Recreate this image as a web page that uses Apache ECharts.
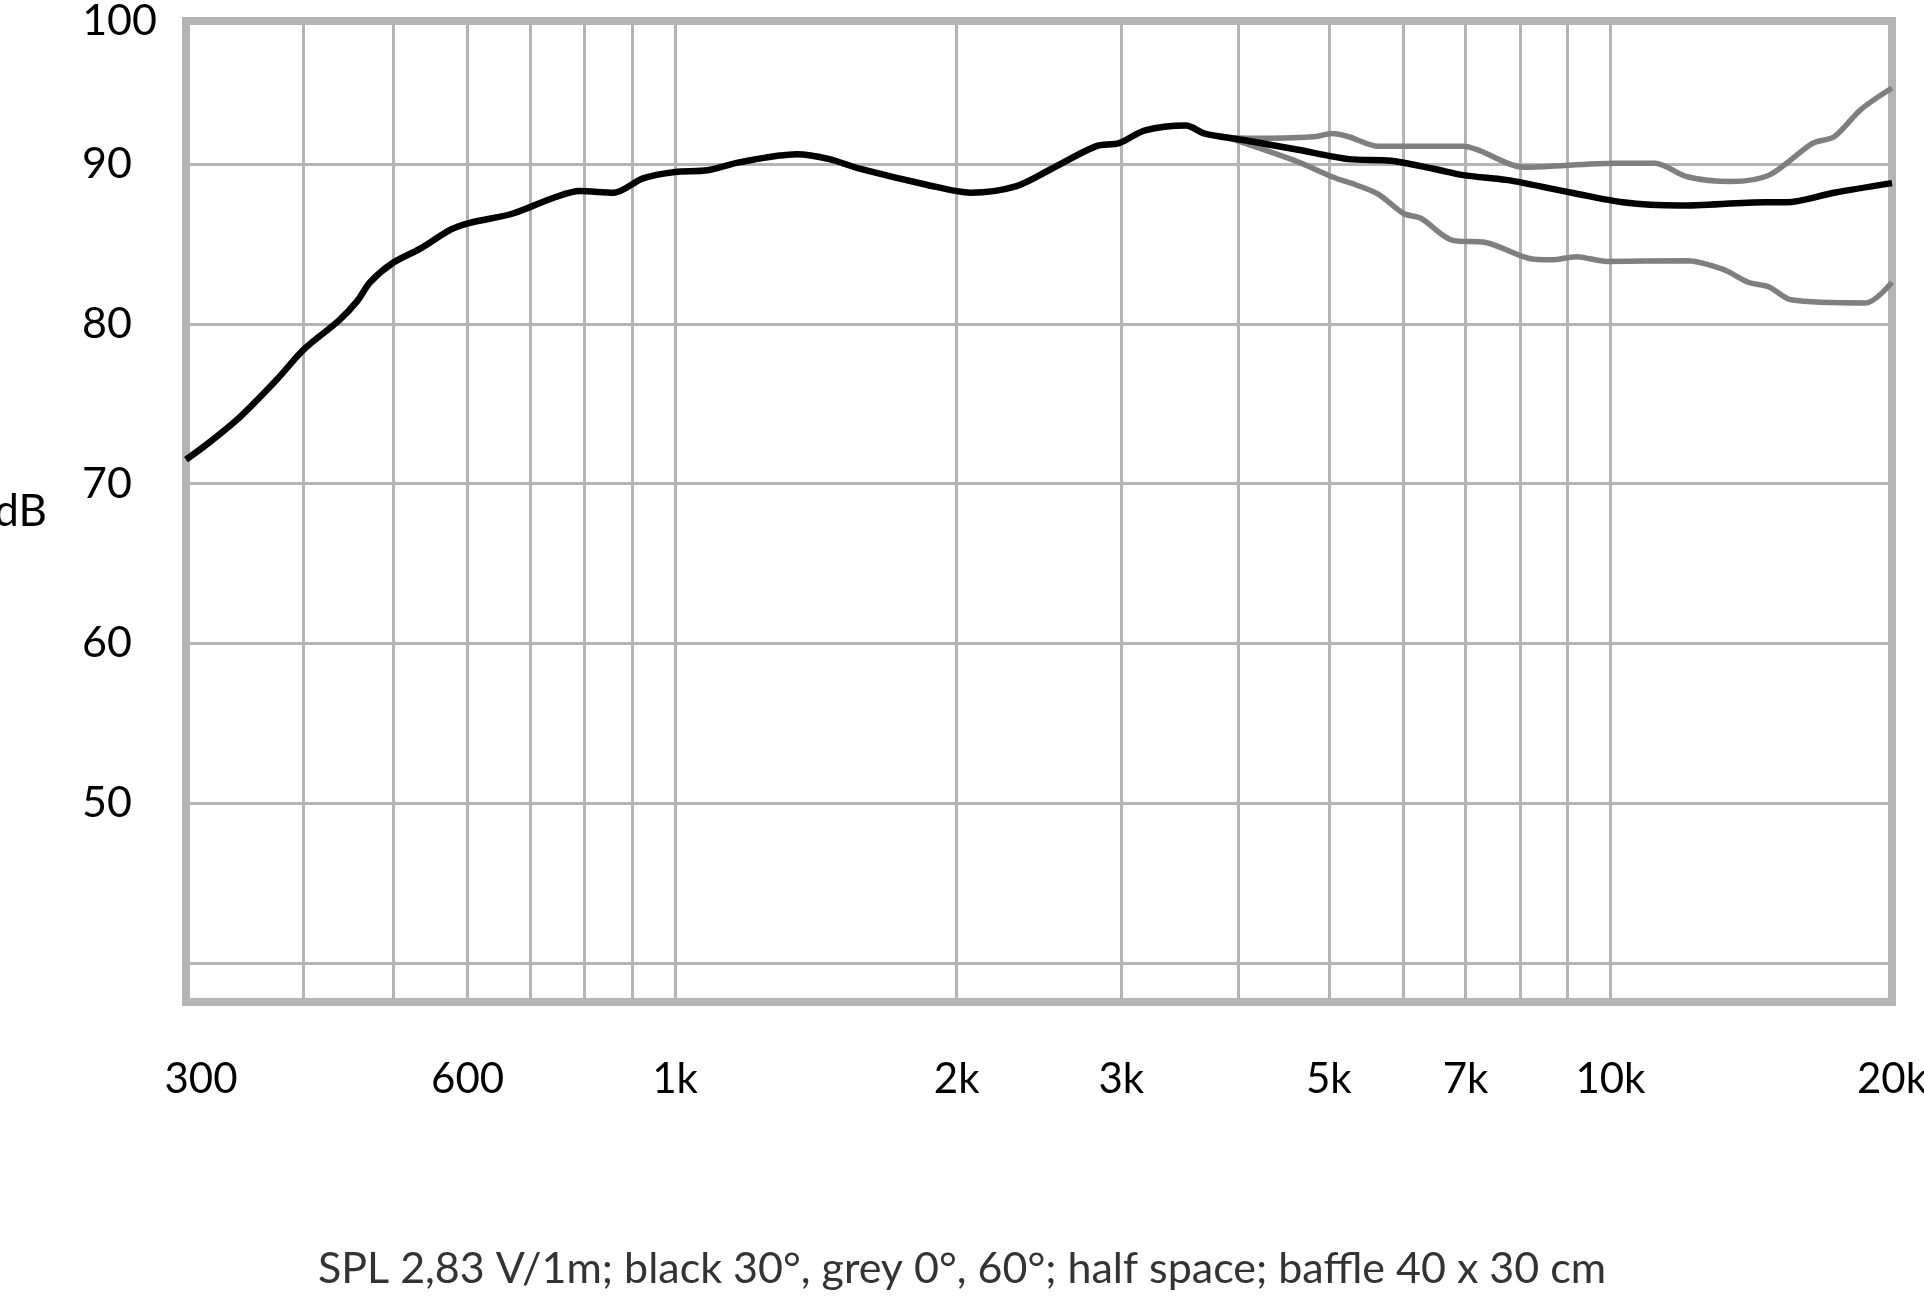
<!DOCTYPE html>
<html><head><meta charset="utf-8">
<script src="https://cdn.jsdelivr.net/npm/echarts@6/dist/echarts.min.js"></script>
<style>html,body{margin:0;padding:0;background:#fff}#c{width:1924px;height:1297px}</style>
</head><body><div id="c"></div>
<script>
// ---- data ----
const freqGridValues = [400,500,600,700,800,900,1000,2000,3000,4000,5000,6000,7000,8000,9000,10000];
const freqLabelValues = [300,600,1000,2000,3000,5000,7000,10000,20000];
const freqLabelTexts = ['300','600','1k','2k','3k','5k','7k','10k','20k'];
const dbGridValues = [40,50,60,70,80,90];
const dbAxisBottom = 37.58;
const dbAxisTop = 98.94;
const dbLabelValues = [50,60,70,80,90,dbAxisTop];
const dbLabelTexts = ['50','60','70','80','90','100'];
const caption = 'SPL 2,83 V/1m; black 30°, grey 0°, 60°; half space; baffle 40 x 30 cm';

const black30 = [
 [300,71.5],[318,72.6],[343,74.2],[375,76.5],[401,78.4],[437,80.2],[457,81.4],[472,82.6],
 [499,83.8],[534,84.7],[576,85.9],[602,86.3],[671,86.9],[743,87.9],[791,88.3],[860,88.2],
 [924,89.1],[1000,89.5],[1083,89.6],[1171,90.1],[1350,90.6],[1462,90.3],[1575,89.7],
 [1857,88.7],[2070,88.2],[2313,88.6],[2527,89.7],[2817,91.1],[2983,91.3],[3180,92.1],
 [3516,92.4],[3684,91.9],[4050,91.5],[4620,90.9],[5250,90.3],[5826,90.2],[6470,89.7],
 [6960,89.3],[7740,89.0],[9090,88.2],[10310,87.6],[11840,87.4],[14640,87.6],[15420,87.6],
 [17350,88.2],[20000,88.8]
];
const grey0 = [
 [3900,91.65],[4116,91.6],[4824,91.7],[5040,91.9],[5250,91.7],[5650,91.1],[6960,91.1],
 [7200,90.9],[8090,89.8],[10100,90.05],[11160,90.05],[12080,89.2],[13460,88.9],[14780,89.3],
 [16460,91.3],[17350,91.7],[18520,93.4],[20000,94.75]
];
const grey60 = [
 [3900,91.65],[4578,90.25],[5090,89.1],[5340,88.7],[5650,88.1],[6010,86.9],[6270,86.6],
 [6800,85.2],[7340,85.1],[8170,84.1],[8660,84.0],[9190,84.2],[9910,83.9],[12080,83.95],
 [13200,83.4],[14040,82.6],[14780,82.3],[15600,81.5],[18740,81.3],[20000,82.6]
];

// ---- chart ----
const FONT = 'Lato';
const gridColor = '#b4b4b4';
function pick(vals, texts, v) {
  for (let i = 0; i < vals.length; i++) {
    if (Math.abs(v - vals[i]) <= Math.abs(vals[i]) * 1e-6 + 1e-9) return texts[i];
  }
  return '';
}
const chart = echarts.init(document.getElementById('c'), null, {renderer: 'canvas'});
const option = {
  animation: false,
  backgroundColor: '#ffffff',
  textStyle: {fontFamily: FONT},
  title: {
    text: caption, left: 'center', top: 1243,
    textStyle: {fontFamily: FONT, fontSize: 43, fontWeight: 'normal', color: '#333333'}
  },
  grid: {
    left: 186, top: 21, width: 1706, height: 981,
    show: true, borderColor: gridColor, borderWidth: 8, backgroundColor: 'transparent',
    containLabel: false, outerBoundsMode: 'none'
  },
  xAxis: {
    type: 'log', logBase: 10, min: 300, max: 20000,
    axisLine: {show: false},
    axisTick: {show: false, customValues: freqGridValues},
    minorTick: {show: false}, minorSplitLine: {show: false},
    splitLine: {show: true, lineStyle: {color: gridColor, width: 3}},
    axisLabel: {
      customValues: freqLabelValues,
      margin: 56,
      formatter: function (v) {
        const t = pick(freqLabelValues, freqLabelTexts, v);
        return t === '300' ? '{first|' + t + '}' : '{n|' + t + '}';
      },
      rich: {
        n: {fontFamily: FONT, fontSize: 42, color: '#000'},
        first: {fontFamily: FONT, fontSize: 42, color: '#000', padding: [0, 0, 0, 30]}
      }
    }
  },
  yAxis: {
    type: 'value', min: dbAxisBottom, max: dbAxisTop,
    name: 'dB', nameLocation: 'middle', nameGap: 139, nameRotate: 0,
    nameTextStyle: {fontFamily: FONT, fontSize: 44, color: '#000'},
    axisLine: {show: false},
    axisTick: {show: false, customValues: dbGridValues},
    splitLine: {show: true, lineStyle: {color: gridColor, width: 3}},
    axisLabel: {
      customValues: dbLabelValues,
      margin: 29,
      formatter: function (v) {
        const t = pick(dbLabelValues, dbLabelTexts, v);
        return t === '100' ? '{top|' + t + '}' : '{n|' + t + '}';
      },
      rich: {
        n: {fontFamily: FONT, fontSize: 43, color: '#000', padding: [0, 25, 0, 0]},
        top: {fontFamily: FONT, fontSize: 43, color: '#000'}
      }
    }
  },
  series: [
    {name: 'grey 60°', type: 'line', data: grey60, showSymbol: false, smooth: 0.3,
     lineStyle: {color: '#7f7f7f', width: 5.5}, itemStyle: {color: '#7f7f7f'}, z: 2},
    {name: 'grey 0°', type: 'line', data: grey0, showSymbol: false, smooth: 0.3,
     lineStyle: {color: '#7f7f7f', width: 5.5}, itemStyle: {color: '#7f7f7f'}, z: 2},
    {name: 'black 30°', type: 'line', data: black30, showSymbol: false, smooth: 0.3,
     lineStyle: {color: '#000000', width: 6.5}, itemStyle: {color: '#000'}, z: 3}
  ]
};
chart.setOption(option);
</script>
</body></html>
